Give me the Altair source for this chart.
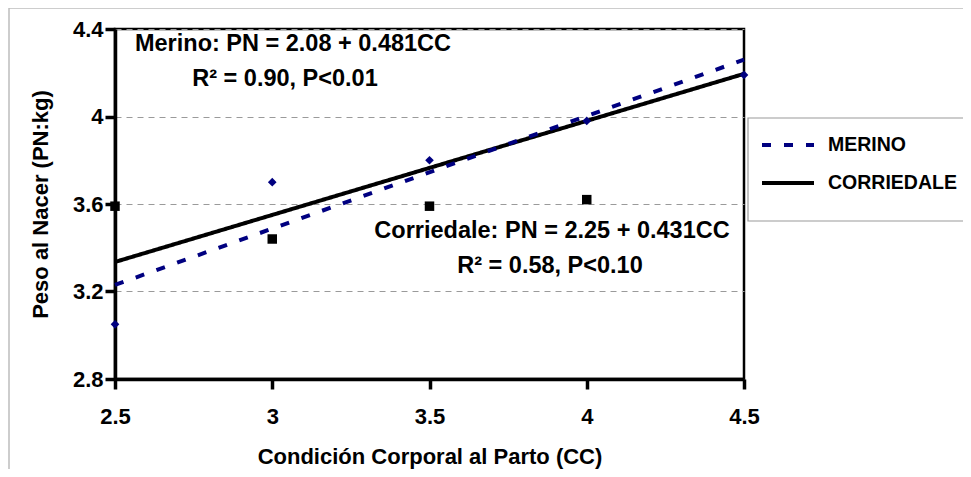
import altair as alt
import pandas as pd

# Observed points
merino_cc = [2.5, 3.0, 3.5, 4.0, 4.5]
merino_pn = [3.05, 3.70, 3.80, 3.98, 4.19]
corr_cc = [2.5, 3.0, 3.5, 4.0]
corr_pn = [3.59, 3.44, 3.59, 3.62]

# Regression lines (end points)
line_cc = [2.5, 4.5]
merino_fit = [3.23, 4.26]
corr_fit = [3.335, 4.195]

series = ["MERINO", "CORRIEDALE"]
x_ticks = [2.5, 3.0, 3.5, 4.0, 4.5]
y_ticks = [2.8, 3.2, 3.6, 4.0, 4.4]

FONT = "Liberation Sans"

pts_m = pd.DataFrame({"cc": merino_cc, "pn": merino_pn})
pts_c = pd.DataFrame({"cc": corr_cc, "pn": corr_pn})
lines = pd.DataFrame({
    "cc": line_cc + line_cc,
    "pn": corr_fit + merino_fit,
    "serie": [series[1]] * 2 + [series[0]] * 2,
})

xs = alt.Scale(domain=[2.5, 4.5], nice=False, zero=False)
ys = alt.Scale(domain=[2.8, 4.4], nice=False, zero=False)

xax = alt.Axis(values=x_ticks, title="Condición Corporal al Parto (CC)", grid=False,
               format="~g", tickSize=10, tickWidth=3.5, domainWidth=3.5, labelPadding=17,
               titlePadding=19, domainColor="black", tickColor="black",
               labelFlush=False, labelOverlap=False)
yax = alt.Axis(values=y_ticks, title="Peso al Nacer (PN:kg)", format="~g",
               tickSize=10, tickWidth=3.5, domainWidth=3.5, labelPadding=2, titlePadding=20,
               domainColor="black", tickColor="black", labelFlush=False, labelOverlap=False,
               grid=True, gridDash=[6, 5], gridColor="#9a9a9a", gridWidth=1)

frame = alt.Chart(pd.DataFrame({"a": [0]})).mark_rect(
    filled=False, color="#bdbdbd", strokeWidth=1.5
).encode(x=alt.value(-106), x2=alt.value(1000), y=alt.value(-21), y2=alt.value(600))

legend_box = alt.Chart(pd.DataFrame({"a": [0]})).mark_rect(
    fill="white", stroke="#9a9a9a", strokeWidth=1.2
).encode(x=alt.value(633), x2=alt.value(1000), y=alt.value(89), y2=alt.value(192))

base_lines = alt.Chart(lines).mark_line(strokeWidth=4).encode(
    x=alt.X("cc:Q", scale=xs, axis=xax),
    y=alt.Y("pn:Q", scale=ys, axis=yax),
    color=alt.Color("serie:N", scale=alt.Scale(domain=series, range=["#000080", "#000000"]),
                    legend=alt.Legend(title=None, orient="none", legendX=645, legendY=88,
                                      symbolType="stroke", symbolSize=2704,
                                      symbolStrokeWidth=4, labelFontSize=19.5,
                                      labelFont=FONT, labelFontWeight="bold",
                                      labelColor="black", labelOffset=12,
                                      rowPadding=0, padding=0)),
    strokeDash=alt.StrokeDash("serie:N", scale=alt.Scale(domain=series, range=[[9, 13], [1, 0]]),
                              legend=None),
    order=alt.Order("serie:N", sort="ascending"),
)

m_pts = alt.Chart(pts_m).mark_point(shape="diamond", filled=True, color="#000080", size=75, opacity=1).encode(
    x=alt.X("cc:Q", scale=xs), y=alt.Y("pn:Q", scale=ys))
c_pts = alt.Chart(pts_c).mark_point(shape="square", filled=True, color="#000000", size=90, opacity=1).encode(
    x=alt.X("cc:Q", scale=xs), y=alt.Y("pn:Q", scale=ys))

def label(txt, x, y):
    return alt.Chart(pd.DataFrame({"t": [txt]})).mark_text(
        font=FONT, fontWeight="bold", fontSize=23.5, color="black", align="center", baseline="middle"
    ).encode(x=alt.value(x), y=alt.value(y), text="t:N")

texts = (label("Merino: PN = 2.08 + 0.481CC", 178, 15)
         + label("R² = 0.90, P<0.01", 170, 50)
         + label("Corriedale: PN = 2.25 + 0.431CC", 437, 202)
         + label("R² = 0.58, P<0.10", 435, 237))

chart = alt.layer(frame, legend_box, base_lines, m_pts, c_pts, texts).properties(
    width=629, height=350,
    padding={"left": 107, "top": 21, "right": 219, "bottom": 90},
    autosize=alt.AutoSizeParams(type="none"),
    background="white",
).configure_view(
    stroke="black", strokeWidth=2.5
).configure_axis(
    labelFont=FONT, labelFontWeight="bold", labelFontSize=22, labelColor="black",
    titleFont=FONT, titleFontWeight="bold", titleFontSize=22, titleColor="black",
    domainColor="black", tickColor="black"
)

chart.save("out.html", embed_options={"renderer": "svg", "actions": False})
